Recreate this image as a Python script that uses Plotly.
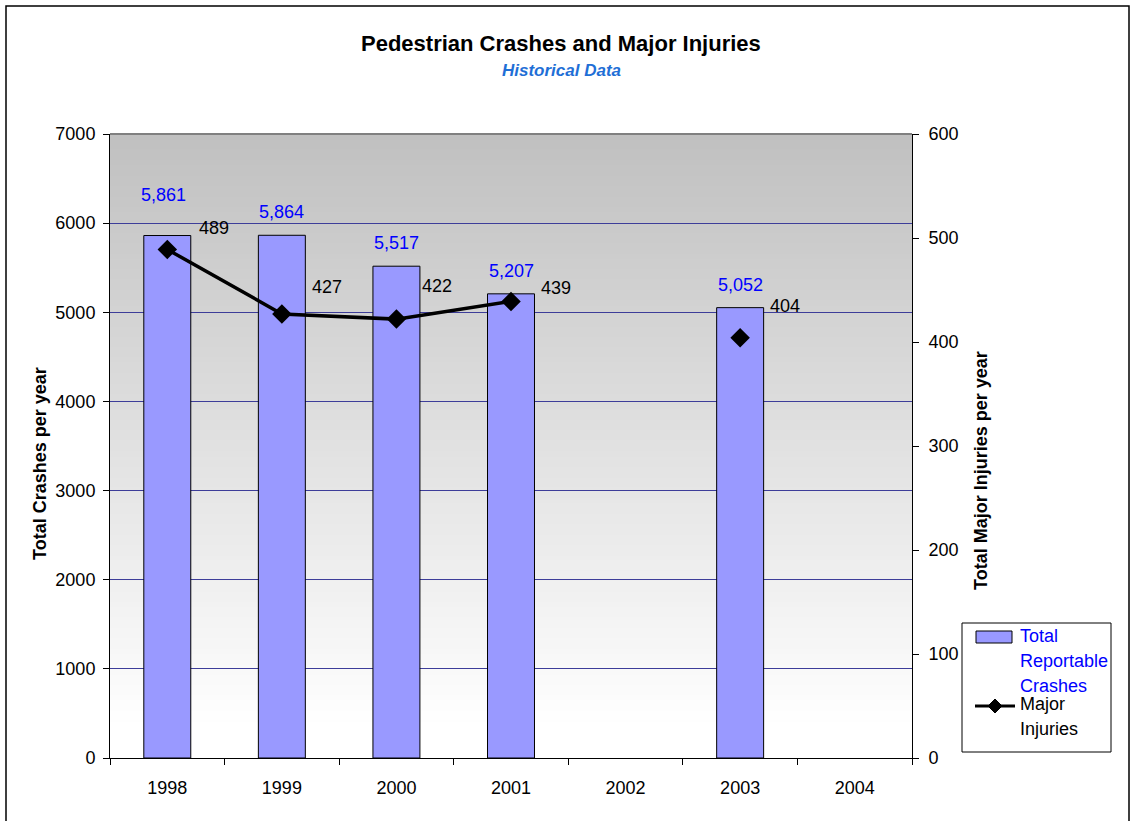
import plotly.graph_objects as go

# ---- data ----
years = [1998, 1999, 2000, 2001, 2002, 2003, 2004]
total_crashes = [5861, 5864, 5517, 5207, None, 5052, None]
major_injuries = [489, 427, 422, 439, None, 404, None]
left_ticks = [0, 1000, 2000, 3000, 4000, 5000, 6000, 7000]
right_ticks = [0, 100, 200, 300, 400, 500, 600]

# label placement (pixel offsets from the mark)
crash_label_dx = [-4, 0, 0, 0, 0, 0, 0]
crash_label_dy = [41, 23, 23, 23, 0, 23, 0]
injury_label_dx = [47, 45, 41, 45, 0, 45, 0]
injury_label_dy = [21, 27, 33, 13, 0, 32, 0]

FONT = "Liberation Sans, Arial, sans-serif"
W, H = 1130, 821
PL, PR, PT, PB = 110, 912, 134, 758


def px(x):
    return (x - PL) / (PR - PL)


def py(y):
    return (PB - y) / (PB - PT)


fig = go.Figure()

fig.add_trace(go.Bar(
    x=years, y=total_crashes, name="Total Reportable Crashes",
    marker=dict(color="#9999ff", line=dict(color="#000000", width=1)),
    width=0.41, yaxis="y",
))

fig.add_trace(go.Scatter(
    x=years, y=major_injuries, name="Major Injuries", yaxis="y2",
    mode="lines+markers", connectgaps=False,
    line=dict(color="#000000", width=3.5),
    marker=dict(symbol="diamond", size=15, color="#000000"),
))

annotations = []
shapes = []

# value labels
for yr, v, dx, dy in zip(years, total_crashes, crash_label_dx, crash_label_dy):
    if v is None:
        continue
    annotations.append(dict(
        x=yr, y=v, xref="x", yref="y", text=f"{v:,}", showarrow=False,
        xanchor="center", yanchor="middle", xshift=dx, yshift=dy,
        font=dict(family=FONT, size=18, color="#0000ff"),
    ))
for yr, v, dx, dy in zip(years, major_injuries, injury_label_dx, injury_label_dy):
    if v is None:
        continue
    annotations.append(dict(
        x=yr, y=v, xref="x", yref="y2", text=f"{v}", showarrow=False,
        xanchor="center", yanchor="middle", xshift=dx, yshift=dy,
        font=dict(family=FONT, size=18, color="#000000"),
    ))

# titles
annotations += [
    dict(x=px(561), y=py(43), xref="paper", yref="paper", showarrow=False,
         xanchor="center", yanchor="middle",
         text="<b>Pedestrian Crashes and Major Injuries</b>",
         font=dict(family=FONT, size=22, color="#000000")),
    dict(x=px(561), y=py(71), xref="paper", yref="paper", showarrow=False,
         xanchor="center", yanchor="middle",
         text="<b><i>Historical Data</i></b>",
         font=dict(family=FONT, size=17, color="#1f6fd6")),
    dict(x=px(40), y=py(464), xref="paper", yref="paper", showarrow=False,
         xanchor="center", yanchor="middle",
         text="<b>Total Crashes per year</b>", textangle=-90,
         font=dict(family=FONT, size=18, color="#000000")),
    dict(x=px(981), y=py(471), xref="paper", yref="paper", showarrow=False,
         xanchor="center", yanchor="middle",
         text="<b>Total Major Injuries per year</b>", textangle=-90,
         font=dict(family=FONT, size=18, color="#000000")),
]

# gradient plot-area fill: grey at top fading to white near the bottom
n = 120
for i in range(n):
    f0, f1 = i / n, (i + 1) / n
    fm = (f0 + f1) / 2
    t = max(0.0, (fm - 0.05) / 0.95)
    v = int(round(255 - 63 * t))
    shapes.append(dict(
        type="rect", xref="paper", yref="paper",
        x0=0, x1=1, y0=f0, y1=min(1, f1 + 0.002), layer="below",
        line=dict(width=0), fillcolor=f"rgb({v},{v},{v})",
    ))

# top edge of plot area
shapes.append(dict(type="line", xref="paper", yref="paper", x0=0, x1=1, y0=1, y1=1,
                   line=dict(color="#808080", width=2)))

# chart border
shapes.append(dict(type="rect", xref="paper", yref="paper",
                   x0=px(6), x1=px(1129), y0=py(6), y1=py(840),
                   line=dict(color="#000000", width=1.5), fillcolor="rgba(0,0,0,0)"))

# legend
shapes.append(dict(type="rect", xref="paper", yref="paper",
                   x0=px(962), x1=px(1111), y0=py(623), y1=py(752),
                   line=dict(color="#000000", width=1), fillcolor="#ffffff"))
shapes.append(dict(type="rect", xref="paper", yref="paper",
                   x0=px(976), x1=px(1012), y0=py(631), y1=py(643),
                   line=dict(color="#000000", width=1), fillcolor="#9999ff"))
shapes.append(dict(type="line", xref="paper", yref="paper",
                   x0=px(975), x1=px(1015), y0=py(706), y1=py(706),
                   line=dict(color="#000000", width=3)))
cx, cy, r = 995, 706, 7
shapes.append(dict(type="path", xref="paper", yref="paper",
                   path=(f"M {px(cx - r)} {py(cy)} L {px(cx)} {py(cy - r)} "
                         f"L {px(cx + r)} {py(cy)} L {px(cx)} {py(cy + r)} Z"),
                   line=dict(color="#000000", width=1), fillcolor="#000000"))
for txt, yy, col in [("Total", 636, "#0000ff"), ("Reportable", 661, "#0000ff"),
                     ("Crashes", 686, "#0000ff"), ("Major", 704, "#000000"),
                     ("Injuries", 729, "#000000")]:
    annotations.append(dict(x=px(1018), y=py(yy), xref="paper", yref="paper",
                            xanchor="left", yanchor="middle", showarrow=False, text=txt,
                            font=dict(family=FONT, size=18, color=col)))

# category boundaries for the x tick marks
boundaries = [y - 0.5 for y in years] + [years[-1] + 0.5]

fig.update_layout(
    template="none",
    width=W, height=H,
    margin=dict(l=PL, r=W - PR, t=PT, b=H - PB, pad=0, autoexpand=False),
    paper_bgcolor="#ffffff", plot_bgcolor="rgba(0,0,0,0)",
    showlegend=False, hovermode=False,
    font=dict(family=FONT, size=18, color="#000000"),
    xaxis=dict(
        range=[years[0] - 0.5, years[-1] + 0.5], automargin=False,
        tickmode="array", tickvals=years, ticktext=[str(y) for y in years],
        ticks="", showline=True, linecolor="#000000", linewidth=1,
        showgrid=False, zeroline=False, ticklabelstandoff=13,
        tickfont=dict(family=FONT, size=18, color="#000000"),
        minor=dict(tickmode="array", tickvals=boundaries, ticks="outside",
                   ticklen=6, tickcolor="#000000", showgrid=False),
    ),
    yaxis=dict(
        range=[0, 7000], automargin=False,
        tickmode="array", tickvals=left_ticks, ticktext=[str(t) for t in left_ticks],
        ticks="outside", ticklen=6, tickcolor="#000000",
        showline=True, linecolor="#000000", linewidth=1,
        showgrid=True, gridcolor="#3d3d99", gridwidth=1, zeroline=False,
        ticklabelstandoff=4,
        tickfont=dict(family=FONT, size=18, color="#000000"),
    ),
    yaxis2=dict(
        range=[0, 600], automargin=False,
        tickmode="array", tickvals=right_ticks, ticktext=[str(t) for t in right_ticks],
        overlaying="y", side="right",
        ticks="outside", ticklen=6, tickcolor="#000000",
        showline=True, linecolor="#000000", linewidth=1,
        showgrid=False, zeroline=False, ticklabelstandoff=6,
        tickfont=dict(family=FONT, size=18, color="#000000"),
    ),
    annotations=annotations,
    shapes=shapes,
)

fig.write_html("out.html")
